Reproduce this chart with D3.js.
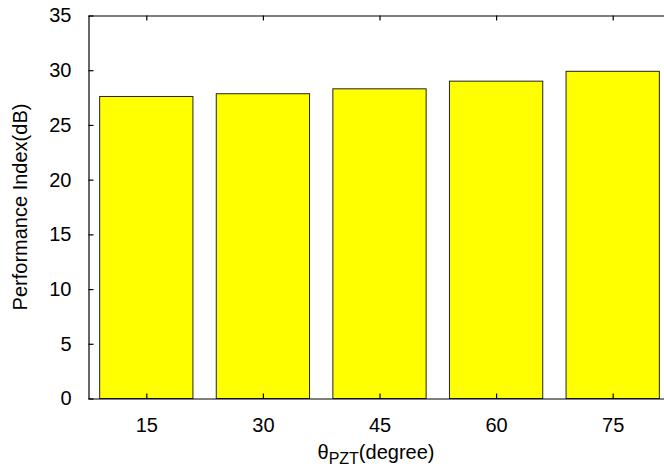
<!DOCTYPE html>
<html>
<head>
<meta charset="utf-8">
<script src="https://cdn.jsdelivr.net/npm/d3@7"></script>
<style>
  html, body { margin: 0; padding: 0; background: #fff; }
  svg { display: block; }
  text { font-family: "Liberation Sans", Arial, Helvetica, sans-serif; fill: #000; }
</style>
</head>
<body>
<svg id="chart" width="664" height="473"></svg>
<script>
// Angle of the PZT (degrees) and the resulting performance index (dB)
const angles = [15, 30, 45, 60, 75];
const perfIndex = [27.6, 27.85, 28.3, 29.0, 29.9];
const yTicks = [0, 5, 10, 15, 20, 25, 30, 35];

const svg = d3.select("#chart");
const W = 664;
const left = 88, right = W + 7;

const x = d3.scaleLinear().domain([7.5, 82.5]).range([left, right]);
const y = d3.scaleLinear().domain([0, 35]).range([398.5, 15.5]);
const boxWidth = 12;
const fontSize = "20px";

// bars
svg.append("g").selectAll("rect")
  .data(angles)
  .join("rect")
  .attr("x", (d) => x(d - boxWidth / 2))
  .attr("width", (d) => x(d + boxWidth / 2) - x(d - boxWidth / 2))
  .attr("y", (d, i) => y(perfIndex[i]))
  .attr("height", (d, i) => y(0) - y(perfIndex[i]))
  .attr("fill", "#ffff00")
  .attr("stroke", "#222")
  .attr("stroke-width", 1);

const tickSize = 5;

// left axis (ticks point inward)
const yAxis = d3.axisLeft(y).tickValues(yTicks).tickSizeInner(-tickSize).tickSizeOuter(0).tickPadding(17);
svg.append("g").attr("transform", `translate(${x(7.5) + 0.5},0)`).call(yAxis)
  .call((g) => g.selectAll("text").style("font-size", fontSize));

// bottom axis
const xAxis = d3.axisBottom(x).tickValues(angles).tickSizeInner(-tickSize).tickSizeOuter(0).tickPadding(19);
svg.append("g").attr("transform", `translate(0,${y(0)})`).call(xAxis)
  .call((g) => g.selectAll("text").style("font-size", fontSize));

// top axis (ticks only)
const xTop = d3.axisTop(x).tickValues(angles).tickSizeInner(-tickSize).tickSizeOuter(0).tickFormat("");
svg.append("g").attr("transform", `translate(0,${y(35)})`).call(xTop);

svg.selectAll(".domain, .tick line").attr("stroke", "#000").attr("stroke-width", 1.2);

// axis titles
svg.append("text")
  .attr("transform", `translate(27,${(y(0) + y(35)) / 2}) rotate(-90)`)
  .attr("text-anchor", "middle")
  .style("font-size", fontSize)
  .text("Performance Index(dB)");

const xt = svg.append("text")
  .attr("x", 376)
  .attr("y", 459)
  .attr("text-anchor", "middle")
  .style("font-size", fontSize);
xt.append("tspan").text("θ");
xt.append("tspan").attr("dy", 5).style("font-size", "16px").text("PZT");
xt.append("tspan").attr("dy", -5).text("(degree)");
</script>
</body>
</html>
